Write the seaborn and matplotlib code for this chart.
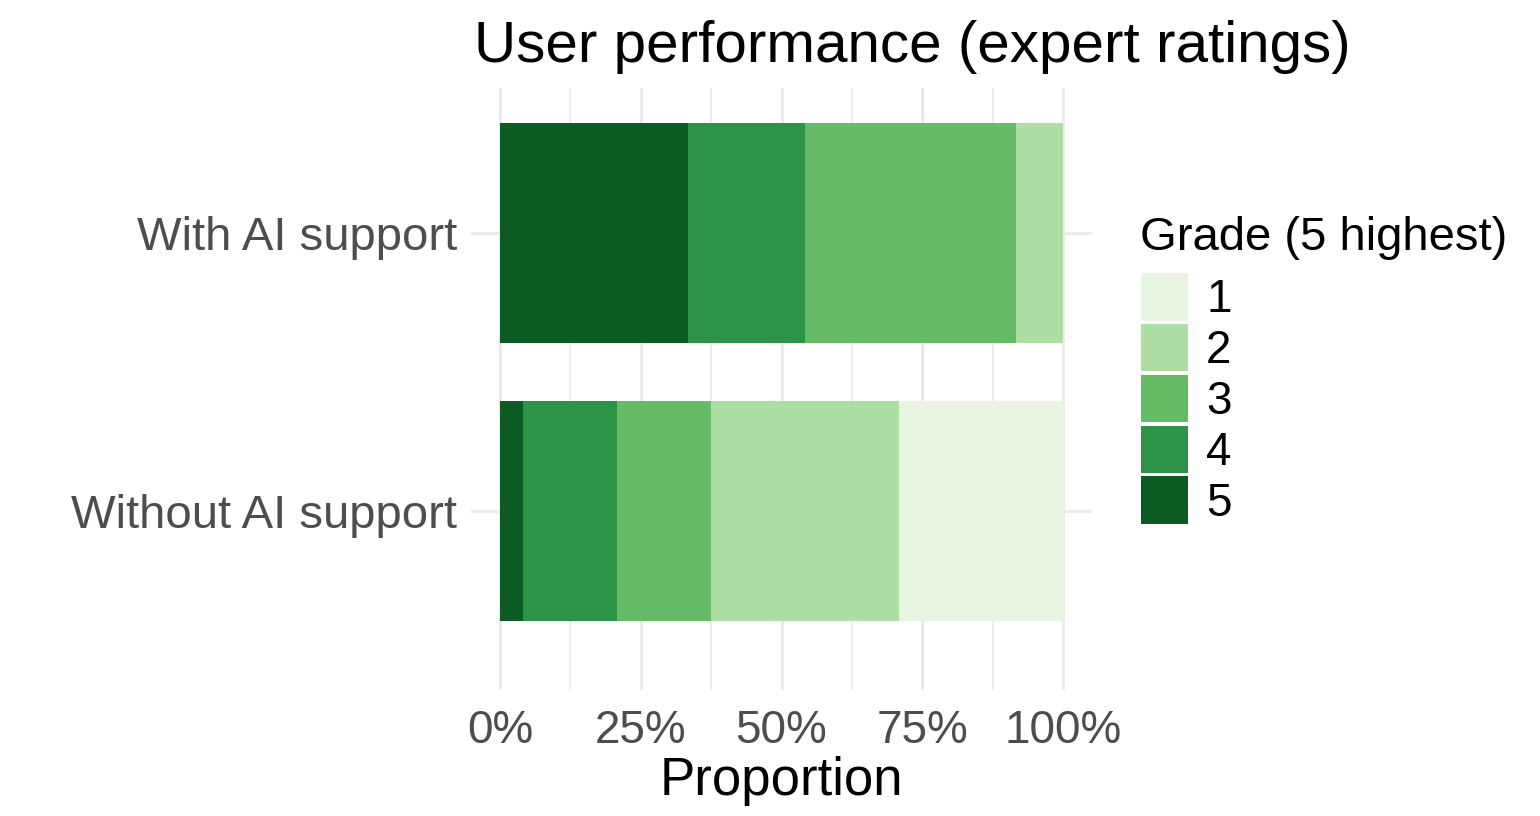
import pandas as pd
import matplotlib
matplotlib.use("Agg")
import matplotlib.pyplot as plt
import seaborn as sns
from matplotlib.patches import Patch
from matplotlib.ticker import FixedLocator

sns.set_theme(style="whitegrid")
plt.rcParams["font.family"] = ["Liberation Sans", "DejaVu Sans"]

# proportions (%) per grade
groups = ["With AI support", "Without AI support"]
grades = ["1", "2", "3", "4", "5"]
with_ai = [0.0, 8.3, 37.5, 20.8, 33.4]
without_ai = [29.1, 33.5, 16.6, 16.7, 4.1]
grade_colors = ["#E9F5E3", "#ADDFA4", "#66BB66", "#2D9447", "#0B5B23"]

rows = []
for grp, vals in zip(groups, [with_ai, without_ai]):
    total = sum(vals)
    for g, v in zip(grades, vals):
        rows.append({"group": grp, "grade": g, "prop": v / total})
df = pd.DataFrame(rows)

# stack: grade 5 starts at 0, grade 1 ends at 100%
df["grade_num"] = df["grade"].astype(int)
df["end"] = 0.0
for grp in groups:
    m = df["group"] == grp
    sub = df[m].sort_values("grade_num", ascending=False)
    df.loc[sub.index, "end"] = sub["prop"].cumsum().values

fig = plt.figure(figsize=(15.4, 8.16), dpi=100)
ax = fig.add_axes([471 / 1540, 126 / 816, 621 / 1540, 602 / 816])

for g, c in zip(grades, grade_colors):
    d = df[df["grade"] == g]
    sns.barplot(data=d, x="end", y="group", order=groups, color=c,
                width=0.79, linewidth=0, saturation=1, ax=ax, orient="h")

ax.set_xlim(-0.0515, 1.0515)
ax.set_ylim(1.644, -0.52)
ax.set_xticks([0, 0.25, 0.5, 0.75, 1.0])
ax.set_xticklabels(["0%", "25%", "50%", "75%", "100%"])
ax.xaxis.set_minor_locator(FixedLocator([0.125, 0.375, 0.625, 0.875]))
ax.grid(True, which="major", color="#EBEBEB", linewidth=2.2)
ax.grid(True, which="minor", axis="x", color="#EBEBEB", linewidth=1.3)
ax.set_axisbelow(True)
for s in ax.spines.values():
    s.set_visible(False)
ax.tick_params(axis="both", which="both", length=0, colors="#4D4D4D")
ax.tick_params(axis="x", labelsize=33, pad=14)
ax.tick_params(axis="y", labelsize=34, pad=10)
ax.set_ylabel("")
ax.set_xlabel("Proportion", fontsize=38, color="black", labelpad=2)

fig.text(912 / 1540, (816 - 62) / 816, "User performance (expert ratings)",
         fontsize=42, ha="center", va="baseline", color="black")

# legend title drawn separately so the key block can be placed freely
fig.text(1140 / 1540, (816 - 250) / 816, "Grade (5 highest)",
         fontsize=34, ha="left", va="baseline", color="black")
handles = [Patch(facecolor=c, edgecolor="none") for c in grade_colors]
leg = fig.legend(handles, grades, loc="upper left",
                 bbox_to_anchor=(1141 / 1540, (816 - 273) / 816), frameon=False,
                 fontsize=33, handlelength=1.02, handleheight=1.22,
                 handletextpad=0.4, labelspacing=0.035, borderpad=0, borderaxespad=0,
                 labelcolor="black")

fig.savefig("out.png", dpi=100, facecolor="white")
